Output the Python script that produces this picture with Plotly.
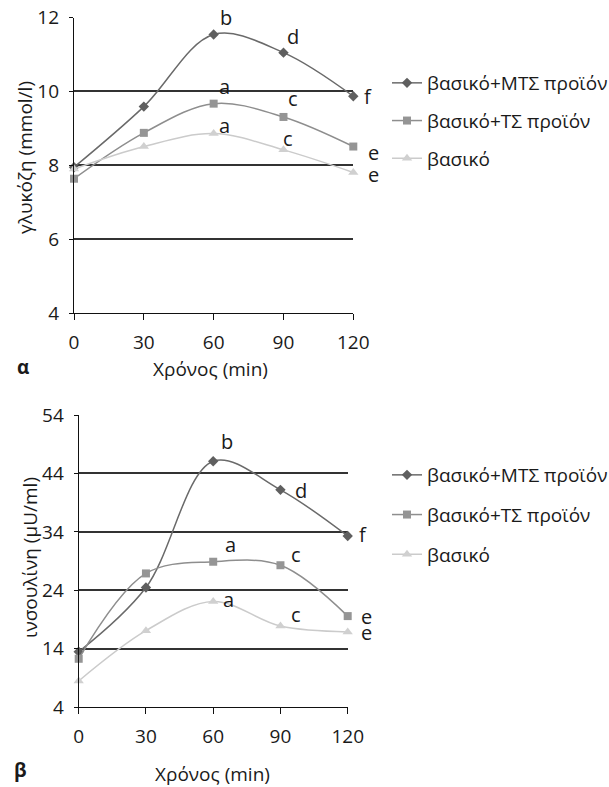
import plotly.graph_objects as go

# ---------------- data ----------------
time_min = [0, 30, 60, 90, 120]
series_names = ["βασικό+ΜΤΣ προϊόν", "βασικό+ΤΣ προϊόν", "βασικό"]

glucose_mts = [7.95, 9.59, 11.54, 11.05, 9.87]
glucose_ts = [7.64, 8.88, 9.67, 9.31, 8.51]
glucose_basic = [7.9, 8.51, 8.86, 8.42, 7.81]

insulin_mts = [13.5, 24.5, 46.1, 41.2, 33.3]
insulin_ts = [12.3, 26.9, 28.9, 28.3, 19.6]
insulin_basic = [8.5, 17.1, 22.1, 17.9, 16.9]

# significance letters: (text, x in minutes, y)
glucose_letters = [("b", 65.4, 12.0), ("d", 94.3, 11.49), ("f", 126.5, 9.86),
                   ("a", 64.7, 10.14), ("c", 94.3, 9.81), ("e", 128.6, 8.35),
                   ("a", 64.7, 9.08), ("c", 92.1, 8.73), ("e", 128.6, 7.76)]
insulin_letters = [("b", 66.0, 49.4), ("d", 99.0, 41.05), ("f", 127.0, 33.6),
                   ("a", 67.9, 31.9), ("c", 96.8, 30.2), ("e", 128.6, 19.6),
                   ("a", 66.7, 22.5), ("c", 96.8, 19.9), ("e", 128.6, 16.8)]

glucose_ticks = [4, 6, 8, 10, 12]
insulin_ticks = [4, 14, 24, 34, 44, 54]
time_ticks = [0, 30, 60, 90, 120]
X_MAX = 120

FONT = "Open Sans"
FS = 19
W, H = 609, 787
line_colors = ["#6a6a6a", "#8e8e8e", "#cbcbcb"]
marker_colors = ["#5f5f5f", "#959595", "#d0d0d0"]
symbols = ["diamond", "square", "triangle-up"]
msizes = [8, 8, 9]

fig = go.Figure()

glu = [glucose_mts, glucose_ts, glucose_basic]
ins = [insulin_mts, insulin_ts, insulin_basic]
for i in range(3):
    fig.add_trace(go.Scatter(
        x=time_min, y=glu[i], name=series_names[i], mode="lines+markers",
        line=dict(color=line_colors[i], width=1.5, shape="spline", smoothing=1),
        marker=dict(symbol=symbols[i], size=msizes[i], color=marker_colors[i]),
        cliponaxis=False, xaxis="x", yaxis="y", legend="legend",
        legendgroup="g%d" % i))
for i in range(3):
    fig.add_trace(go.Scatter(
        x=time_min, y=ins[i], name=series_names[i], mode="lines+markers",
        line=dict(color=line_colors[i], width=1.5, shape="spline", smoothing=1),
        marker=dict(symbol=symbols[i], size=msizes[i], color=marker_colors[i]),
        cliponaxis=False, xaxis="x2", yaxis="y2", legend="legend2",
        legendgroup="h%d" % i))

annotations = []
for t, x, y in glucose_letters:
    annotations.append(dict(text=t, x=x / X_MAX, y=y, xref="x domain", yref="y",
                            xanchor="center", yanchor="middle", showarrow=False,
                            font=dict(family=FONT, size=FS + 1, color="#1a1a1a")))
for t, x, y in insulin_letters:
    annotations.append(dict(text=t, x=x / X_MAX, y=y, xref="x2 domain", yref="y2",
                            xanchor="center", yanchor="middle", showarrow=False,
                            font=dict(family=FONT, size=FS + 1, color="#1a1a1a")))

def px(xp, yp):
    return xp / W, 1 - yp / H

def add_text(text, xp, yp, size=FS, angle=0, bold=False):
    x, y = px(xp, yp)
    annotations.append(dict(text=("<b>%s</b>" % text) if bold else text, x=x, y=y,
                            xref="paper", yref="paper", showarrow=False,
                            textangle=angle, xanchor="center", yanchor="middle",
                            font=dict(family=FONT, size=size, color="#1a1a1a")))

add_text("γλυκόζη (mmol/l)", 25, 158, angle=-90)
add_text("Χρόνος (min)", 210, 369)
add_text("α", 23, 367, size=FS, bold=True)
add_text("ινσουλίνη (μU/ml)", 30, 558, angle=-90)
add_text("Χρόνος (min)", 212, 774)
add_text("β", 20, 770, size=FS, bold=True)

axis_common = dict(showline=True, linecolor="#111111", linewidth=1.2,
                   ticks="outside", tickcolor="#111111", tickwidth=1.2,
                   tickfont=dict(family=FONT, size=FS, color="#1a1a1a"),
                   zeroline=False, automargin=False)

LFS = 19
fig.update_layout(
    width=W, height=H, margin=dict(l=0, r=0, t=0, b=0, autoexpand=False),
    paper_bgcolor="white", plot_bgcolor="white",
    showlegend=True,
    xaxis=dict(domain=[74 / W, 353.3 / W], anchor="y", range=[0, X_MAX],
               tickvals=time_ticks, ticklen=6, showgrid=False,
               ticklabelstandoff=6, **axis_common),
    yaxis=dict(domain=[1 - 313.3 / H, 1 - 17.5 / H], anchor="x", range=[4, 12],
               tickvals=glucose_ticks, ticklen=4, showgrid=True,
               gridcolor="#333333", gridwidth=1.5, ticklabelstandoff=6,
               **axis_common),
    xaxis2=dict(domain=[78.7 / W, 347.7 / W], anchor="y2", range=[0, X_MAX],
                tickvals=time_ticks, ticklen=6, showgrid=False,
                ticklabelstandoff=6, **axis_common),
    yaxis2=dict(domain=[1 - 707.3 / H, 1 - 415 / H], anchor="x2", range=[4, 54],
                tickvals=insulin_ticks, ticklen=4, showgrid=True,
                gridcolor="#333333", gridwidth=1.5, ticklabelstandoff=6,
                **axis_common),
    legend=dict(x=387 / W, y=1 - 64 / H, xanchor="left", yanchor="top",
                font=dict(family=FONT, size=LFS, color="#1a1a1a"),
                bgcolor="rgba(0,0,0,0)", tracegroupgap=10, itemwidth=30),
    legend2=dict(x=387 / W, y=1 - 456 / H, xanchor="left", yanchor="top",
                 font=dict(family=FONT, size=LFS, color="#1a1a1a"),
                 bgcolor="rgba(0,0,0,0)", tracegroupgap=12, itemwidth=30),
    annotations=annotations,
)

fig.write_html("out.html")
